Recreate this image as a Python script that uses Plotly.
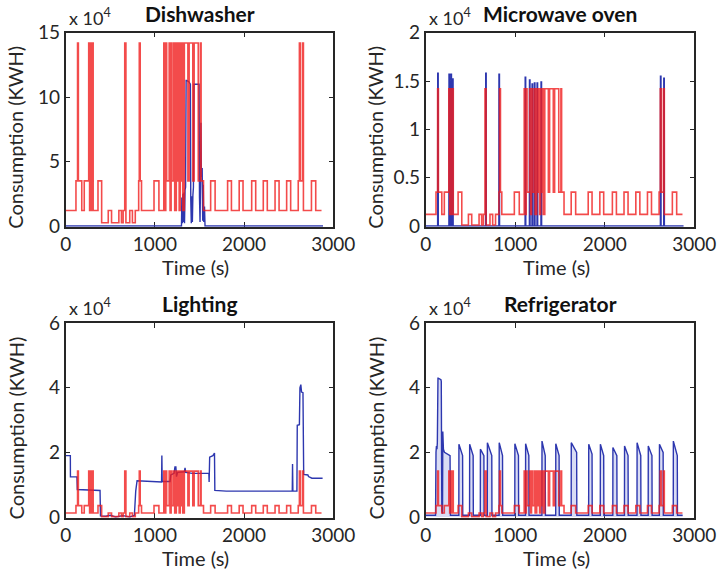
import plotly.graph_objects as go

# ---------------- data (values in units of 1e4) ----------------
titles = ["Dishwasher", "Microwave oven", "Lighting", "Refrigerator"]
x_ticks = [0, 1000, 2000, 3000]
y_ticks = [[0, 5, 10, 15], [0, 0.5, 1, 1.5, 2], [0, 2, 4, 6], [0, 2, 4, 6]]
y_max = [15, 2, 6, 6]

# red (estimated state) step sequence, shared by all panels
red_t = [0, 115, 133, 142, 180, 208, 258, 268, 280, 290, 298, 308, 362, 403,
         477, 514, 596, 625, 644, 662, 675, 718, 748, 780,
         818, 825, 835, 850, 990, 1045,
         1100, 1112, 1122, 1132, 1160, 1170, 1182, 1192, 1212, 1222, 1240, 1250,
         1262, 1272, 1284, 1294, 1305, 1312,
         1330, 1370, 1384, 1425, 1440, 1486, 1510, 1518, 1545,
         1625, 1675, 1815, 1858, 1945, 1988, 2085, 2130, 2215, 2260,
         2347, 2392, 2477, 2522, 2607, 2620, 2630, 2655, 2665, 2755, 2803, 2868]
red_state = ["B", "M", "P", "M", "B", "M", "P", "B", "P", "B", "P", "B", "M", "L",
             "B", "L", "B", "L", "B", "P", "L", "B", "L", "B",
             "M", "P", "M", "B", "M", "B",
             "P", "B", "P", "M", "P", "B", "P", "M", "P", "B", "P", "M",
             "P", "B", "P", "M", "P", "B",
             "P", "M", "P", "M", "P", "M", "P", "M", "B",
             "M", "B", "M", "B", "M", "B", "M", "B", "M", "B",
             "M", "B", "M", "B", "M", "P", "M", "P", "B", "M", "B", "B"]
red_levels_dish = {"L": 0.25, "B": 1.2, "M": 3.5, "P": 14.2}
red_levels_small = {"L": 0.01, "B": 0.12, "M": 0.35, "P": 1.42}

# Dishwasher (blue, measured)
dw_t = [0, 1298, 1302, 1308, 1314, 1320, 1326, 1332, 1338, 1344, 1350, 1356, 1380, 1398,
        1402, 1408, 1414, 1420, 1426, 1432, 1438, 1495, 1500, 1506, 1512, 1516, 1520,
        1524, 1530, 1536, 1542, 1548, 1556, 1562, 2885]
dw_v = [0, 0, 2.2, 0.2, 2.5, 0.3, 2.6, 0.2, 2.8, 3.0, 11.3, 11.3, 11.2, 11.0,
        2.1, 0.2, 2.3, 0.3, 2.4, 3.0, 11.0, 11.0, 2.2, 0.3, 3.5, 8.0, 4.7,
        3.8, 4.5, 0.4, 3.2, 0.3, 1.5, 0, 0]

# Microwave oven (blue spikes)
mw_spike_t = [137, 263, 285, 303, 673, 821, 1114, 1162, 1191, 1217, 1247, 1291, 2625, 2662]
mw_spike_v = [1.58, 1.57, 1.57, 1.52, 1.58, 1.57, 1.54, 1.51, 1.47, 1.48, 1.48, 1.49, 1.55, 1.53]

# Lighting (blue)
lt_t = [0, 52, 53, 126, 130, 385, 390, 450, 500, 560, 640, 720, 770, 785, 800, 900, 1000,
        1075, 1078, 1082, 1170, 1178, 1215, 1225, 1235, 1242, 1255, 1330, 1338, 1345, 1420,
        1500, 1605, 1608, 1614, 1650, 1668, 1672, 1800, 2000, 2200, 2400, 2540, 2543,
        2547, 2592, 2596, 2620, 2626, 2636, 2644, 2660, 2668, 2715, 2722, 2760, 2880]
lt_v = [1.9, 1.9, 1.24, 1.24, 0.85, 0.82, 0.03, 0.02, 0.05, 0.0, 0.04, 0.0, 0.05, 0.8, 1.12, 1.1, 1.08,
        1.08, 1.9, 1.1, 1.1, 1.3, 1.35, 1.55, 1.55, 1.25, 1.38, 1.4, 1.52, 1.38, 1.35,
        1.35, 1.35, 1.08, 1.85, 1.9, 1.98, 0.82, 0.8, 0.8, 0.8, 0.79, 0.8, 1.64,
        0.8, 0.8, 2.84, 2.86, 4.0, 4.1, 3.87, 3.85, 1.32, 1.3, 1.25, 1.2, 1.2]

# Refrigerator (blue): start event + compressor cycles
fr_t0 = [0, 110, 115, 120, 126, 130, 137, 140, 170, 174, 180, 188, 191, 198, 210, 272, 276]
fr_v0 = [0.05, 0.05, 2.0, 2.2, 2.1, 2.3, 4.3, 4.3, 4.25, 4.2, 0.2, 0.1, 2.65, 2.1, 2.0, 1.9, 0.05]
fr_on = [370, 490, 610, 688, 820, 995, 1115, 1298, 1452, 1625, 1820, 1950, 2090, 2220, 2360, 2485, 2610, 2765]
fr_peak = [2.25, 2.25, 2.1, 2.3, 2.3, 2.27, 2.27, 2.35, 2.27, 2.3, 2.25, 2.25, 2.15, 2.2, 2.3, 2.2, 2.25, 2.35]
fr_off = [412, 530, 650, 738, 858, 1036, 1152, 1335, 1490, 1686, 1858, 1988, 2135, 2260, 2402, 2527, 2652, 2810]
fr_tail = [1.9, 1.9, 1.9, 1.9, 1.9, 1.9, 1.9, 1.9, 1.9, 2.0, 1.95, 1.9, 1.9, 1.9, 1.9, 1.9, 2.0, 1.9]
fr_base = 0.05
t_end = 2870

# ---------------- build traces ----------------
def red_series(levels):
    xs = list(red_t)
    ys = [levels[s] for s in red_state]
    return xs, ys

mw_x, mw_y = [0], [0]
for t, v in zip(mw_spike_t, mw_spike_v):
    mw_x += [t - 4, t - 3, t + 3, t + 4]
    mw_y += [0, v, v, 0]
mw_x.append(t_end + 10)
mw_y.append(0)

fr_x, fr_y = list(fr_t0), list(fr_v0)
for on, pk, off, tl in zip(fr_on, fr_peak, fr_off, fr_tail):
    fr_x += [on, on + 1, off, off + 2]
    fr_y += [fr_base, pk, tl, fr_base]
fr_x.append(t_end)
fr_y.append(fr_base)

blue = [(dw_t, dw_v), (mw_x, mw_y), (lt_t, lt_v), (fr_x, fr_y)]
blue_fill = [None, None, None, "rgba(130,140,220,0.3)"]
red_lv = [red_levels_dish, red_levels_small, red_levels_small, red_levels_small]

BLUE = "rgb(45,55,175)"
RED = "rgba(240,30,30,0.8)"
INK = "#262626"
FONT = "Lato"

fig = go.Figure()
for i in range(4):
    ax = "" if i == 0 else str(i + 1)
    bx, by = blue[i]
    extra = {}
    if blue_fill[i]:
        extra = dict(fill="tozeroy", fillcolor=blue_fill[i])
    fig.add_trace(go.Scatter(x=bx, y=by, mode="lines", line=dict(color=BLUE, width=1.4),
                             xaxis="x" + ax, yaxis="y" + ax, hoverinfo="skip", **extra))
    rx, ry = red_series(red_lv[i])
    fig.add_trace(go.Scatter(x=rx, y=ry, mode="lines", line=dict(color=RED, width=1.6, shape="hv"),
                             xaxis="x" + ax, yaxis="y" + ax, hoverinfo="skip"))

W, H = 720, 577
def px(x):
    return x / W
def py(y):
    return 1 - y / H

box_x = [(65.7, 333.3), (425.7, 694.3)]
box_y = [(32.7, 226.7), (323.3, 517.7)]

layout = dict(width=W, height=H, margin=dict(l=0, r=0, t=0, b=0, autoexpand=False),
              paper_bgcolor="white", plot_bgcolor="white", showlegend=False)
axis_common = dict(ticks="inside", ticklen=5, tickwidth=1.2, tickcolor=INK,
                   showline=True, linecolor=INK, linewidth=1.5, mirror="ticks",
                   showgrid=False, zeroline=False, layer="below traces", automargin=False,
                   tickfont=dict(family=FONT, size=19, color=INK))
annotations = []
for i in range(4):
    col, row = i % 2, i // 2
    key = "" if i == 0 else str(i + 1)
    x0, x1 = box_x[col]
    y0, y1 = box_y[row]
    layout["xaxis" + key] = dict(axis_common, domain=[px(x0), px(x1)], range=[0, 3000],
                                 tickvals=x_ticks, anchor="y" + key)
    layout["yaxis" + key] = dict(axis_common, domain=[py(y1), py(y0)],
                                 range=[-0.004 * y_max[i], y_max[i]],
                                 tickvals=y_ticks[i], anchor="x" + key)
    xc = (x0 + x1) / 2
    annotations.append(dict(text="<b>" + titles[i] + "</b>", x=px(xc), y=py(y0 - 19.5),
                            xref="paper", yref="paper", showarrow=False,
                            font=dict(family=FONT, size=21, color="#111111"),
                            xanchor="center", yanchor="middle"))
    annotations.append(dict(text="x 10<sup>4</sup>", x=px(x0 + 1), y=py(y0 - 2),
                            xref="paper", yref="paper", showarrow=False,
                            font=dict(family=FONT, size=18, color=INK),
                            xanchor="left", yanchor="bottom"))
    annotations.append(dict(text="Consumption (KWH)", x=px(15 + 360 * col),
                            y=py((y0 + y1) / 2 + 8),
                            xref="paper", yref="paper", showarrow=False, textangle=-90,
                            font=dict(family=FONT, size=20, color=INK),
                            xanchor="center", yanchor="middle"))
    annotations.append(dict(text="Time (s)", x=px(xc - 4), y=py(y1 + 40),
                            xref="paper", yref="paper", showarrow=False,
                            font=dict(family=FONT, size=20, color=INK),
                            xanchor="center", yanchor="middle"))
layout["annotations"] = annotations
fig.update_layout(**layout)
fig.write_html("out.html", config={"displayModeBar": False},
               post_script="document.body.style.margin='0px';")
